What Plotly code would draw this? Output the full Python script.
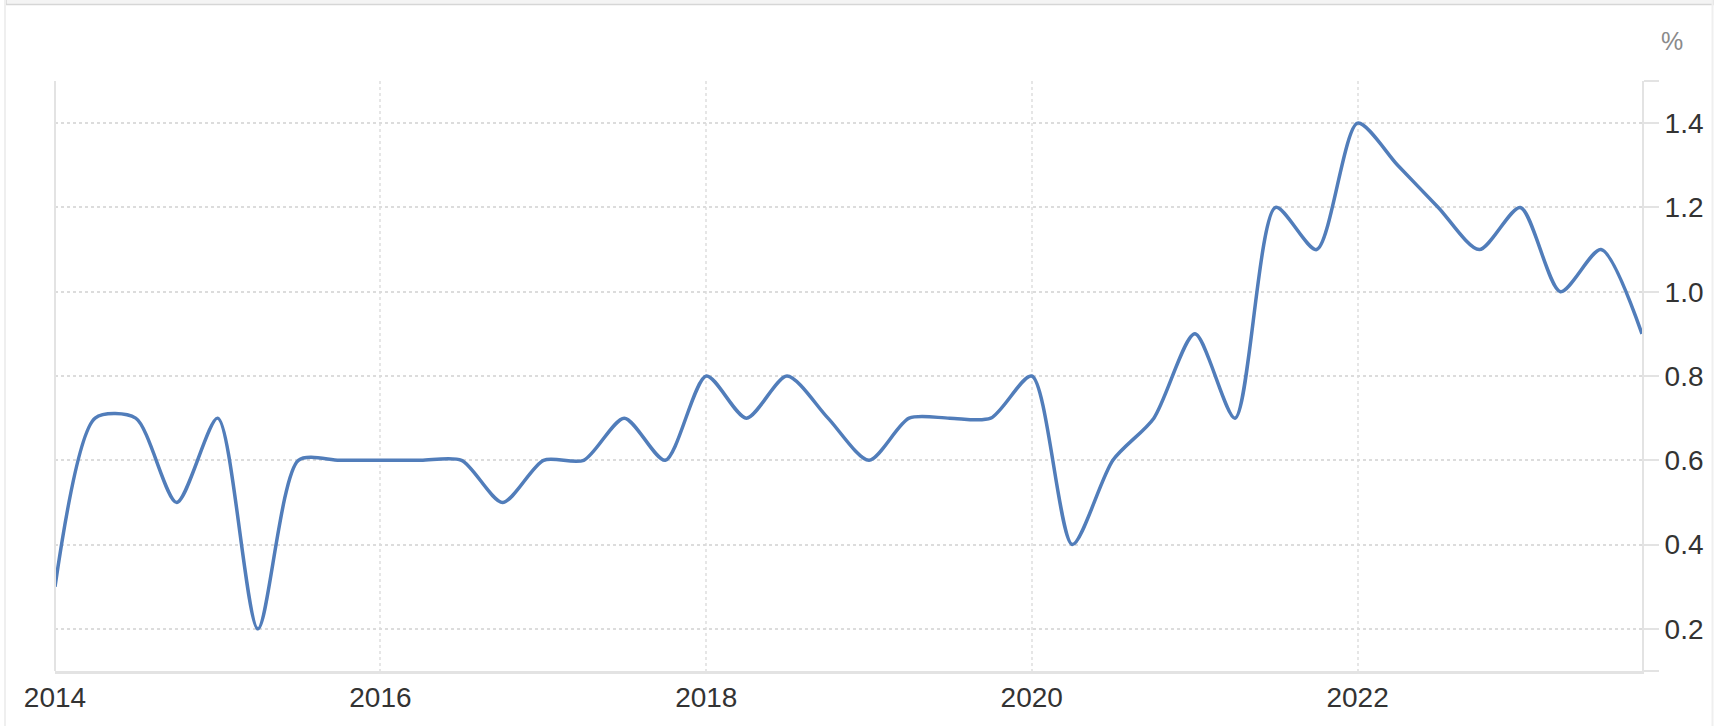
import plotly.graph_objects as go

# ---- data ----
quarters = [
    "2014-01-01", "2014-04-01", "2014-07-01", "2014-10-01",
    "2015-01-01", "2015-04-01", "2015-07-01", "2015-10-01",
    "2016-01-01", "2016-04-01", "2016-07-01", "2016-10-01",
    "2017-01-01", "2017-04-01", "2017-07-01", "2017-10-01",
    "2018-01-01", "2018-04-01", "2018-07-01", "2018-10-01",
    "2019-01-01", "2019-04-01", "2019-07-01", "2019-10-01",
    "2020-01-01", "2020-04-01", "2020-07-01", "2020-10-01",
    "2021-01-01", "2021-04-01", "2021-07-01", "2021-10-01",
    "2022-01-01", "2022-04-01", "2022-07-01", "2022-10-01",
    "2023-01-01", "2023-04-01", "2023-07-01", "2023-10-01",
]
values = [
    0.3, 0.7, 0.7, 0.5,
    0.7, 0.2, 0.6, 0.6,
    0.6, 0.6, 0.6, 0.5,
    0.6, 0.6, 0.7, 0.6,
    0.8, 0.7, 0.8, 0.7,
    0.6, 0.7, 0.7, 0.7,
    0.8, 0.4, 0.6, 0.7,
    0.9, 0.7, 1.2, 1.1,
    1.4, 1.3, 1.2, 1.1,
    1.2, 1.0, 1.1, 0.9,
]
x_tick_vals = ["2014-01-01", "2016-01-01", "2018-01-01", "2020-01-01", "2022-01-01"]
x_tick_text = ["2014", "2016", "2018", "2020", "2022"]
y_tick_vals = [0.1, 0.2, 0.4, 0.6, 0.8, 1.0, 1.2, 1.4, 1.5]
y_tick_text = ["", "0.2", "0.4", "0.6", "0.8", "1.0", "1.2", "1.4", ""]
unit_label = "%"

W, H = 1716, 726
L, R, T, B = 55, 1642, 81, 671  # plot area pixel box

fig = go.Figure()
fig.add_trace(go.Scatter(
    x=quarters, y=values, mode="lines",
    line=dict(color="#517dba", width=3.5, shape="spline", smoothing=0.75),
    hoverinfo="x+y", showlegend=False,
))

FONT = "Liberation Sans, Arial, Helvetica, sans-serif"

fig.update_layout(
    width=W, height=H,
    margin=dict(l=L, r=W - R, t=T, b=H - B, pad=0),
    paper_bgcolor="white", plot_bgcolor="white",
    font=dict(family=FONT, size=28, color="#333333"),
    xaxis=dict(
        type="date",
        range=["2014-01-01", "2023-10-01"],
        tickvals=x_tick_vals, ticktext=x_tick_text,
        showgrid=True, gridcolor="#e6e6e6", griddash="dot", gridwidth=1.5,
        showline=True, linecolor="#e3e3e3", linewidth=2.5,
        ticks="", zeroline=False,
        tickfont=dict(family=FONT, size=28, color="#333333"),
        fixedrange=True,
    ),
    yaxis=dict(
        side="right",
        range=[0.1, 1.5],
        tickvals=y_tick_vals, ticktext=y_tick_text,
        showgrid=True, gridcolor="#dcdcdc", griddash="dot", gridwidth=1.5,
        showline=True, linecolor="#e3e3e3", linewidth=2,
        ticks="outside", ticklen=15, tickcolor="#e3e3e3", tickwidth=1.5,
        zeroline=False,
        tickfont=dict(family=FONT, size=28, color="#333333"),
        fixedrange=True,
    ),
)

# left axis line
fig.add_shape(type="line", xref="paper", yref="paper", x0=0, x1=0, y0=0, y1=1,
              line=dict(color="#e3e3e3", width=2))

# container decorations (pixel -> paper)
def px(xp):
    return (xp - L) / (R - L)

def py(yp):
    return (B - yp) / (B - T)

fig.add_shape(type="rect", xref="paper", yref="paper",
              x0=px(6), x1=px(1713), y0=py(-2), y1=py(4.5),
              fillcolor="#f4f4f4", line=dict(color="#d6d6d6", width=1.5), layer="above")
fig.add_shape(type="line", xref="paper", yref="paper",
              x0=px(5), x1=px(5), y0=py(0), y1=py(726),
              line=dict(color="#efefef", width=2))
fig.add_shape(type="line", xref="paper", yref="paper",
              x0=px(1712.5), x1=px(1712.5), y0=py(0), y1=py(726),
              line=dict(color="#efefef", width=2))

fig.add_annotation(
    text=unit_label, xref="paper", yref="paper",
    x=px(1672), y=py(41), xanchor="center", yanchor="middle",
    showarrow=False, font=dict(family=FONT, size=25, color="#8a8a8a"),
)

fig.write_html(
    "out.html",
    config={"displayModeBar": False},
    post_script="document.body.style.margin='0';document.body.style.overflow='hidden';",
)
